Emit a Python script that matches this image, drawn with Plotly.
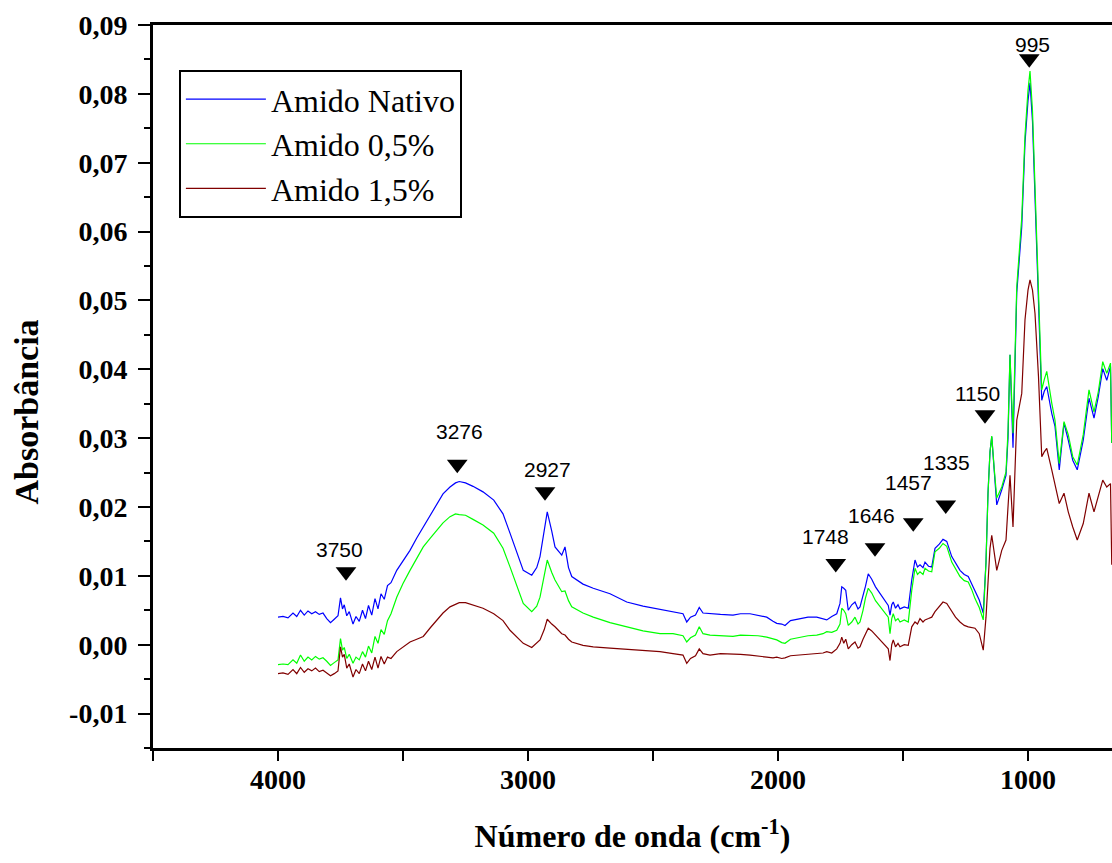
import plotly.graph_objects as go

wavenumber = [4000, 3980, 3960, 3940, 3925, 3910, 3895, 3880, 3865, 3850, 3835, 3820, 3805, 3790, 3775, 3760,
              3750, 3742, 3735, 3725, 3715, 3700, 3688, 3675, 3662, 3650, 3638, 3625, 3612, 3600, 3588, 3575,
              3562, 3548, 3525, 3500, 3472, 3445, 3419, 3390, 3365, 3340, 3312, 3290, 3275, 3250, 3220, 3180,
              3137, 3100, 3072, 3045, 3019, 2985, 2965, 2952, 2935, 2923, 2905, 2892, 2865, 2852, 2838, 2825,
              2780, 2739, 2672, 2605, 2540, 2472, 2420, 2380, 2365, 2350, 2330, 2315, 2300, 2272, 2230, 2180,
              2150, 2112, 2080, 2045, 2020, 2005, 1985, 1972, 1950, 1912, 1880, 1845, 1820, 1805, 1785, 1765,
              1752, 1745, 1737, 1729, 1719, 1705, 1692, 1680, 1672, 1660, 1650, 1639, 1625, 1610, 1592, 1575,
              1559, 1552, 1545, 1539, 1530, 1520, 1512, 1495, 1479, 1465, 1452, 1442, 1432, 1420, 1412, 1398,
              1385, 1372, 1355, 1340, 1325, 1305, 1290, 1272, 1255, 1239, 1225, 1212, 1195, 1179, 1168, 1160,
              1152, 1145, 1135, 1125, 1105, 1088, 1080, 1072, 1060, 1045, 1025, 1012, 1000, 992, 982, 972,
              958, 945, 935, 925, 905, 892, 875, 856, 839, 821, 803, 779, 756, 736, 719, 701,
              685, 670, 665]

amido_nativo = [0.0040, 0.0041, 0.0039, 0.0046, 0.0041, 0.0050, 0.0043, 0.0049, 0.0045, 0.0048, 0.0044, 0.0046, 0.0038, 0.0032, 0.0037, 0.0042,
                0.0068, 0.0052, 0.0058, 0.0042, 0.0048, 0.0030, 0.0041, 0.0034, 0.0050, 0.0038, 0.0057, 0.0043, 0.0067, 0.0052, 0.0074, 0.0066,
                0.0086, 0.0090, 0.0108, 0.0122, 0.0137, 0.0155, 0.0171, 0.0190, 0.0205, 0.0219, 0.0229, 0.0235, 0.0237, 0.0235, 0.0230, 0.0222,
                0.0210, 0.0190, 0.0162, 0.0135, 0.0108, 0.0101, 0.0112, 0.0128, 0.0165, 0.0193, 0.0165, 0.0142, 0.0130, 0.0142, 0.0112, 0.0099,
                0.0088, 0.0082, 0.0074, 0.0062, 0.0056, 0.0051, 0.0048, 0.0045, 0.0033, 0.0040, 0.0043, 0.0054, 0.0046, 0.0045, 0.0044, 0.0043,
                0.0045, 0.0045, 0.0043, 0.0040, 0.0034, 0.0031, 0.0030, 0.0028, 0.0035, 0.0038, 0.0040, 0.0040, 0.0038, 0.0036, 0.0041, 0.0045,
                0.0060, 0.0084, 0.0082, 0.0079, 0.0050, 0.0058, 0.0062, 0.0052, 0.0055, 0.0070, 0.0085, 0.0103, 0.0095, 0.0084, 0.0074, 0.0065,
                0.0057, 0.0043, 0.0058, 0.0062, 0.0053, 0.0058, 0.0052, 0.0055, 0.0053, 0.0094, 0.0123, 0.0113, 0.0116, 0.0112, 0.0120, 0.0114,
                0.0113, 0.0140, 0.0146, 0.0153, 0.0150, 0.0128, 0.0118, 0.0108, 0.0102, 0.0099, 0.0088, 0.0077, 0.0065, 0.0046, 0.0120, 0.0220,
                0.0280, 0.0302, 0.0250, 0.0203, 0.0225, 0.0246, 0.0300, 0.0421, 0.0286, 0.0511, 0.0607, 0.0729, 0.0790, 0.0816, 0.0760, 0.0656,
                0.0511, 0.0355, 0.0368, 0.0375, 0.0336, 0.0317, 0.0254, 0.0322, 0.0297, 0.0268, 0.0254, 0.0297, 0.0358, 0.0329, 0.0360, 0.0401,
                0.0384, 0.0404, 0.0293]

amido_05 = [-0.0029, -0.0028, -0.0029, -0.0022, -0.0027, -0.0015, -0.0024, -0.0018, -0.0022, -0.0017, -0.0021, -0.0019, -0.0024, -0.0030, -0.0026, -0.0022,
            0.0009, -0.0008, -0.0004, -0.0020, -0.0014, -0.0027, -0.0018, -0.0022, -0.0010, -0.0018, -0.0002, -0.0012, 0.0012, 0.0002, 0.0022, 0.0015,
            0.0035, 0.0045, 0.0069, 0.0089, 0.0108, 0.0125, 0.0142, 0.0155, 0.0166, 0.0177, 0.0186, 0.0190, 0.0189, 0.0188, 0.0182, 0.0174,
            0.0162, 0.0140, 0.0113, 0.0085, 0.0060, 0.0048, 0.0056, 0.0069, 0.0100, 0.0123, 0.0105, 0.0094, 0.0077, 0.0078, 0.0064, 0.0055,
            0.0046, 0.0040, 0.0032, 0.0026, 0.0020, 0.0016, 0.0016, 0.0013, 0.0004, 0.0010, 0.0014, 0.0026, 0.0016, 0.0014, 0.0013, 0.0012,
            0.0014, 0.0014, 0.0013, 0.0011, 0.0008, 0.0007, 0.0003, 0.0002, 0.0008, 0.0011, 0.0013, 0.0014, 0.0016, 0.0019, 0.0018, 0.0021,
            0.0030, 0.0053, 0.0050, 0.0045, 0.0028, 0.0033, 0.0040, 0.0030, 0.0033, 0.0050, 0.0068, 0.0082, 0.0075, 0.0064, 0.0055, 0.0047,
            0.0040, 0.0016, 0.0038, 0.0045, 0.0035, 0.0038, 0.0033, 0.0036, 0.0033, 0.0079, 0.0111, 0.0102, 0.0106, 0.0102, 0.0111, 0.0107,
            0.0106, 0.0135, 0.0140, 0.0147, 0.0143, 0.0120, 0.0110, 0.0099, 0.0093, 0.0091, 0.0080, 0.0067, 0.0054, 0.0036, 0.0120, 0.0220,
            0.0280, 0.0303, 0.0255, 0.0213, 0.0229, 0.0251, 0.0310, 0.0421, 0.0307, 0.0520, 0.0620, 0.0740, 0.0805, 0.0833, 0.0775, 0.0665,
            0.0520, 0.0370, 0.0385, 0.0397, 0.0351, 0.0326, 0.0263, 0.0324, 0.0305, 0.0273, 0.0261, 0.0305, 0.0370, 0.0338, 0.0367, 0.0411,
            0.0394, 0.0409, 0.0293]

amido_15 = [-0.0042, -0.0041, -0.0043, -0.0036, -0.0042, -0.0033, -0.0040, -0.0035, -0.0038, -0.0034, -0.0039, -0.0037, -0.0041, -0.0045, -0.0042, -0.0038,
            -0.0003, -0.0018, -0.0014, -0.0034, -0.0028, -0.0047, -0.0036, -0.0042, -0.0028, -0.0038, -0.0024, -0.0036, -0.0018, -0.0034, -0.0017, -0.0028,
            -0.0018, -0.0020, -0.0010, -0.0004, 0.0004, 0.0008, 0.0012, 0.0025, 0.0036, 0.0046, 0.0055, 0.0059, 0.0061, 0.0061, 0.0058, 0.0053,
            0.0045, 0.0035, 0.0021, 0.0011, 0.0002, -0.0004, 0.0002, 0.0007, 0.0022, 0.0037, 0.0030, 0.0026, 0.0016, 0.0014, 0.0008, 0.0004,
            -0.0001, -0.0003, -0.0005, -0.0007, -0.0009, -0.0010, -0.0013, -0.0015, -0.0027, -0.0020, -0.0016, -0.0006, -0.0013, -0.0015, -0.0013, -0.0013,
            -0.0014, -0.0015, -0.0016, -0.0018, -0.0019, -0.0018, -0.0020, -0.0019, -0.0016, -0.0015, -0.0014, -0.0013, -0.0012, -0.0010, -0.0012, -0.0006,
            0.0002, 0.0011, 0.0002, 0.0008, -0.0006, 0.0000, 0.0004, -0.0005, -0.0003, 0.0008, 0.0015, 0.0024, 0.0020, 0.0014, 0.0007, 0.0001,
            -0.0006, -0.0023, 0.0000, 0.0007, -0.0003, 0.0002, -0.0003, 0.0000, -0.0001, 0.0026, 0.0033, 0.0030, 0.0038, 0.0033, 0.0036, 0.0038,
            0.0040, 0.0048, 0.0055, 0.0062, 0.0060, 0.0048, 0.0040, 0.0033, 0.0028, 0.0026, 0.0025, 0.0024, 0.0016, -0.0008, 0.0040, 0.0094,
            0.0140, 0.0159, 0.0130, 0.0108, 0.0137, 0.0152, 0.0200, 0.0246, 0.0171, 0.0326, 0.0365, 0.0472, 0.0515, 0.0530, 0.0515, 0.0481,
            0.0389, 0.0273, 0.0280, 0.0285, 0.0254, 0.0234, 0.0205, 0.0220, 0.0193, 0.0171, 0.0152, 0.0176, 0.0220, 0.0193, 0.0215, 0.0239,
            0.0229, 0.0234, 0.0116]

series_names = ["Amido Nativo", "Amido 0,5%", "Amido 1,5%"]
series_colors = ["#0000FF", "#00FF00", "#800000"]

# Peak annotations: label, marker position, label position
peak_labels = ["3750", "3276", "2927", "1748", "1646", "1457", "1335", "1150", "995"]
peak_marker_x = [3728, 3283, 2932, 1769, 1612, 1459, 1329, 1172, 995]
peak_marker_y = [0.0106, 0.0262, 0.0222, 0.0118, 0.0141, 0.0177, 0.0203, 0.0334, 0.0851]
peak_label_x = [3756, 3276, 2923, 1809, 1625, 1479, 1325, 1201, 981]
peak_label_y = [0.0139, 0.0309, 0.0255, 0.0157, 0.0188, 0.0235, 0.0265, 0.0365, 0.0871]

x_tickvals = [4000, 3000, 2000, 1000]
y_tickvals = [-0.01, 0.0, 0.01, 0.02, 0.03, 0.04, 0.05, 0.06, 0.07, 0.08, 0.09]
y_ticktext = ["-0,01", "0,00", "0,01", "0,02", "0,03", "0,04", "0,05", "0,06", "0,07", "0,08", "0,09"]

fig = go.Figure()
for name, ys, col in zip(series_names, [amido_nativo, amido_05, amido_15], series_colors):
    fig.add_trace(go.Scatter(x=wavenumber, y=ys, mode="lines", name=name,
                             line=dict(color=col, width=1.2)))

fig.add_trace(go.Scatter(x=peak_marker_x, y=peak_marker_y, mode="markers", showlegend=False,
                         marker=dict(symbol="triangle-down", size=18, color="black")))

for lab, lx, ly in zip(peak_labels, peak_label_x, peak_label_y):
    fig.add_annotation(x=lx, y=ly, text=lab, showarrow=False, xref="x", yref="y",
                       font=dict(family="Liberation Sans, Arial", size=21, color="black"))

serif = "Liberation Serif, Times New Roman, serif"
fig.update_layout(
    width=1112, height=863,
    margin=dict(l=153, r=0, t=25, b=115, autoexpand=False),
    paper_bgcolor="white", plot_bgcolor="white",
    font=dict(family=serif, color="black"),
    showlegend=True,
    legend=dict(x=0.027, y=0.938, xanchor="left", yanchor="top",
                bgcolor="white", bordercolor="black", borderwidth=2,
                font=dict(family=serif, size=32, color="black"),
                itemwidth=80, tracegroupgap=0),
    xaxis=dict(range=[4500, 664], showgrid=False, zeroline=False, automargin=False,
               showline=True, linecolor="black", linewidth=3, mirror=True,
               ticks="outside", ticklen=10, tickwidth=2, tickcolor="black",
               tickvals=x_tickvals, ticktext=[str(v) for v in x_tickvals],
               tickfont=dict(family=serif, size=28, color="black", weight="bold"),
               minor=dict(dtick=500, tick0=0, ticks="outside", ticklen=10, tickwidth=2, tickcolor="black"),
               ticklabelstandoff=-6,
               title=dict(text="Número de onda (cm<sup>-1</sup>)",
                          font=dict(family=serif, size=32, weight="bold"), standoff=32)),
    yaxis=dict(range=[-0.015, 0.09], showgrid=False, zeroline=False, automargin=False,
               showline=True, linecolor="black", linewidth=3,
               ticks="outside", ticklen=12, tickwidth=2, tickcolor="black",
               tickvals=y_tickvals, ticktext=y_ticktext,
               tickfont=dict(family=serif, size=28, color="black", weight="bold"),
               minor=dict(dtick=0.005, tick0=0, ticks="outside", ticklen=6, tickwidth=2, tickcolor="black"),
               ticklabelstandoff=5,
               title=dict(text="Absorbância" + "&nbsp;" * 6,
                          font=dict(family=serif, size=34, weight="bold"), standoff=21)),
)

fig.write_html("out.html", config={"displayModeBar": False},
               post_script="document.body.style.margin='0';document.body.style.padding='0';")
